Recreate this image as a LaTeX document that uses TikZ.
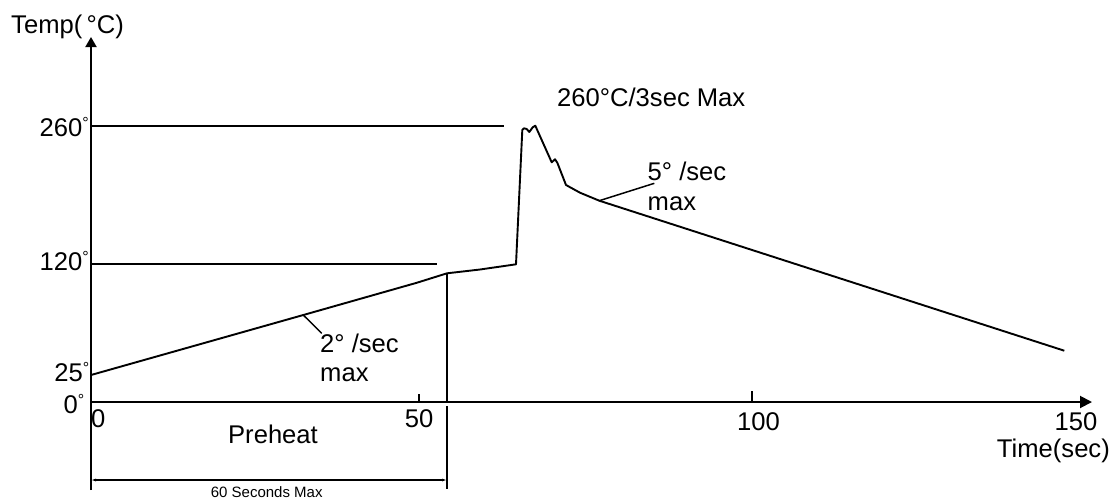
\documentclass[tikz,border=0pt]{standalone}
\usepackage{fontspec}
\setmainfont{Liberation Sans}
\usetikzlibrary{arrows.meta}
\newcommand\sdg{\raisebox{8pt}{\fontsize{16}{16}\selectfont °}}
\begin{document}
\begin{tikzpicture}[x=1pt,y=-1pt,
  ln/.style={line width=1.9pt,line join=round},
  lbl/.style={inner sep=0pt,font=\fontsize{25.6}{29}\selectfont},
  sml/.style={inner sep=0pt,font=\fontsize{15}{17}\selectfont}]
\useasboundingbox (0,0) rectangle (1118,499);
% axes
\coordinate (ybot) at (91,490);
\coordinate (ytop) at (91,37);
\coordinate (o) at (91,402);
\coordinate (xend) at (1092,402);
\draw[ln,-{Triangle[length=10pt,width=11pt]}] (ybot) -- (ytop);
\draw[ln,-{Triangle[length=12pt,width=12pt]}] (o) -- (xend);
% ticks
\coordinate (t50) at (419,402);
\coordinate (t100) at (752,402);
\draw[line width=1.4pt] (t50) -- ++(0,-8);
\draw[line width=1.4pt] (t100) -- ++(0,-11);
% reference lines
\coordinate (r260a) at (91,126);
\coordinate (r260b) at (504,126);
\coordinate (r120a) at (91,264.3);
\coordinate (r120b) at (437,264.3);
\draw[ln] (r260a) -- (r260b);
\draw[ln] (r120a) -- (r120b);
% profile
\coordinate (p0) at (91,375);
\coordinate (p1) at (303.3,315);
\coordinate (p2) at (417,282.7);
\coordinate (p3) at (447,273.3);
\coordinate (p4) at (480,269.5);
\coordinate (p5) at (516,264.3);
\coordinate (p20) at (599.3,200.7);
\coordinate (pend) at (1064.3,350.7);
\draw[ln] (p0) -- (p1) -- (p2) -- (p3) -- (p4) -- (p5)
  -- (522.3,130) -- (524,128.3) -- (526.7,129) -- (529.3,132)
  -- (532.7,127.3) -- (535.3,125.7) -- (551.7,162.3) -- (555,159.3)
  -- (557.3,162.7) -- (566,185) -- (580,192.7) -- (p20) -- (pend);
% preheat end line
\coordinate (v1) at (447,406);
\coordinate (v2) at (447,489);
\draw[ln] (p3) -- (p3 |- o);
\draw[ln] (v1) -- (v2);
% dimension
\coordinate (d1) at (91,480);
\coordinate (d2) at (447,480);
\draw[line width=1.3pt,{Latex[length=5pt,width=3pt]}-{Latex[length=5pt,width=3pt]}] (d1) -- (d2);
% leaders
\coordinate (lead1) at (321.7,333.3);
\coordinate (lead2) at (654.3,183.3);
\draw[line width=1.5pt] (p1) -- (lead1);
\draw[line width=1.5pt] (p20) -- (lead2);
% labels
\node[lbl,anchor=base west] (temp) at (11,33) {Temp(\,°C)};
\node[lbl,anchor=base east] (y260) at (89,136) {260\sdg};
\node[lbl,anchor=base east] (y120) at (89,270.7) {120\sdg};
\node[lbl,anchor=base east] (y25) at (89.5,381.7) {25\sdg};
\node[lbl,anchor=base east] (y0) at (84.5,413.3) {0\sdg};
\node[lbl,anchor=base west] (x0) at (91,427.3) {0};
\node[lbl,anchor=base] (x50) at (419,427.3) {50};
\node[lbl,anchor=base] (x100) at (758.5,430) {100};
\node[lbl,anchor=base] (x150) at (1076,430) {150};
\node[lbl,anchor=base east] (time) at (1110,457.7) {Time(sec)};
\node[lbl,anchor=base] (pre) at (273,443) {Preheat};
\node[sml,anchor=base] (sixty) at (266.7,497.3) {60 Seconds Max};
\node[lbl,anchor=base west] (r2a) at (320,352.7) {2° /sec};
\node[lbl,anchor=base west] (r2b) at (320,381.7) {max};
\node[lbl,anchor=base west] (r5a) at (647.5,180.7) {5° /sec};
\node[lbl,anchor=base west] (r5b) at (647.5,210) {max};
\node[lbl,anchor=base west] (peak) at (557,106) {260°C/3sec Max};
\end{tikzpicture}
\end{document}
